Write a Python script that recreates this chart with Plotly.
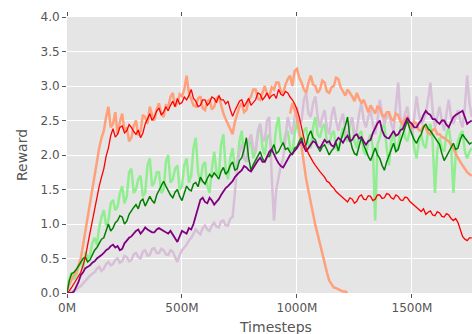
import plotly.graph_objects as go

# Timesteps in millions (sampled every 10M)
timesteps = list(range(0, 1761, 10))

red_reward = [
    0.00, 0.03, 0.08, 0.14, 0.20, 0.26, 0.30, 0.40, 0.52, 0.70,
    0.88, 1.05, 1.22, 1.40, 1.55, 1.68, 1.80, 1.98, 2.10, 2.28,
    2.38, 2.26, 2.30, 2.40, 2.42, 2.32, 2.35, 2.44, 2.40, 2.34,
    2.30, 2.36, 2.25, 2.32, 2.45, 2.52, 2.60, 2.50, 2.55, 2.64,
    2.68, 2.58, 2.62, 2.70, 2.64, 2.72, 2.78, 2.70, 2.82, 2.74,
    2.76, 2.84, 2.80, 2.86, 2.95, 2.82, 2.78, 2.70, 2.72, 2.80,
    2.80, 2.72, 2.76, 2.84, 2.82, 2.76, 2.86, 2.80, 2.80, 2.74,
    2.78, 2.66, 2.56, 2.64, 2.72, 2.78, 2.80, 2.70, 2.76, 2.82,
    2.72, 2.76, 2.80, 2.90, 2.88, 2.80, 2.84, 2.90, 2.82, 2.86,
    2.88, 2.82, 2.95, 2.88, 2.86, 2.92, 2.90, 2.84, 2.80, 2.74,
    2.66, 2.55, 2.40, 2.25, 2.10, 2.02, 1.95, 1.90, 1.85, 1.80,
    1.76, 1.72, 1.68, 1.62, 1.60, 1.55, 1.52, 1.47, 1.44, 1.40,
    1.38, 1.34, 1.32, 1.38, 1.36, 1.30, 1.33, 1.40, 1.42, 1.36,
    1.35, 1.41, 1.40, 1.34, 1.36, 1.42, 1.42, 1.37, 1.38, 1.44,
    1.43, 1.38, 1.36, 1.42, 1.40, 1.35, 1.34, 1.39, 1.38, 1.33,
    1.30, 1.27, 1.24, 1.20, 1.18, 1.22, 1.14, 1.17, 1.19, 1.13,
    1.12, 1.18, 1.16, 1.11, 1.10, 1.15, 1.13, 1.08, 1.05, 1.08,
    1.02, 0.92, 0.82, 0.78, 0.76, 0.80, 0.80,
]

salmon_reward = [
    0.05, 0.12, 0.20, 0.26, 0.30, 0.40, 0.50, 0.70, 0.90, 1.10,
    1.30, 1.55, 1.75, 1.95, 2.10, 2.25, 2.35, 2.55, 2.70, 2.40,
    2.45, 2.62, 2.30, 2.48, 2.60, 2.35, 2.40, 2.20, 2.25, 2.42,
    2.50, 2.28, 2.35, 2.58, 2.55, 2.45, 2.70, 2.58, 2.50, 2.66,
    2.75, 2.60, 2.55, 2.72, 2.70, 2.84, 2.90, 2.70, 2.75, 2.88,
    2.85, 2.95, 3.15, 2.90, 2.80, 2.72, 2.70, 2.82, 2.85, 2.68,
    2.65, 2.78, 2.80, 2.66, 2.70, 2.82, 2.85, 2.72, 2.60, 2.52,
    2.45, 2.36, 2.30, 2.48, 2.60, 2.70, 2.75, 2.62, 2.65, 2.80,
    2.85, 2.95, 2.95, 2.82, 2.80, 2.92, 3.00, 2.88, 2.85, 2.98,
    2.95, 3.05, 3.05, 2.92, 2.90, 3.02, 3.10, 3.15, 3.00, 3.22,
    3.25, 3.12, 3.05, 2.95, 2.90, 3.05, 3.15, 3.02, 3.00, 2.90,
    2.95, 3.08, 3.05, 2.92, 2.90, 2.98, 3.00, 3.12, 3.10, 2.98,
    2.92, 2.86, 2.95, 2.90, 2.85, 2.78, 2.90, 2.82, 2.75, 2.80,
    2.70, 2.62, 2.72, 2.66, 2.60, 2.70, 2.68, 2.58, 2.55, 2.62,
    2.62, 2.52, 2.50, 2.60, 2.58, 2.48, 2.45, 2.52, 2.55, 2.44,
    2.40, 2.48, 2.45, 2.36, 2.35, 2.42, 2.40, 2.32, 2.30, 2.36,
    2.38, 2.30, 2.30, 2.26, 2.25, 2.22, 2.20, 2.15, 2.10, 2.02,
    1.95, 1.90, 1.85, 1.80, 1.75, 1.72, 1.70,
]

salmon_crash_steps = list(range(970, 1221, 10))
salmon_crash_reward = [
    2.60, 2.75, 2.65, 2.55, 2.35, 2.10, 1.88, 1.65, 1.48, 1.30,
    1.15, 0.98, 0.85, 0.70, 0.55, 0.42, 0.30, 0.18, 0.12, 0.08,
    0.07, 0.05, 0.04, 0.02, 0.02, 0.00,
]

green_reward = [
    0.00, 0.18, 0.28, 0.30, 0.34, 0.40, 0.44, 0.50, 0.52, 0.45,
    0.48, 0.56, 0.62, 0.66, 0.72, 0.78, 0.80, 0.92, 1.00, 0.90,
    0.94, 1.02, 1.05, 1.12, 1.10, 1.00, 1.04, 1.14, 1.20, 1.24,
    1.28, 1.22, 1.33, 1.36, 1.26, 1.32, 1.40, 1.34, 1.30, 1.42,
    1.48, 1.56, 1.62, 1.55, 1.48, 1.42, 1.38, 1.46, 1.50, 1.40,
    1.34, 1.46, 1.55, 1.50, 1.48, 1.58, 1.60, 1.54, 1.68, 1.62,
    1.58, 1.66, 1.72, 1.68, 1.74, 1.70, 1.65, 1.76, 1.82, 1.72,
    1.76, 1.85, 1.90, 1.78, 1.80, 1.92, 1.96, 2.08, 2.25, 1.95,
    1.78, 1.86, 1.92, 2.00, 2.05, 1.95, 1.90, 1.98, 1.98, 2.08,
    2.15, 2.02, 2.05, 2.12, 2.18, 2.08, 2.10, 2.04, 2.00, 2.10,
    2.12, 2.20, 2.25, 2.12, 2.15, 2.28, 2.35, 2.25, 2.22, 2.12,
    2.05, 2.12, 2.15, 2.08, 2.00, 2.06, 2.10, 2.18, 2.06, 2.20,
    2.30, 2.42, 2.55, 2.25, 2.10, 2.02, 2.00, 2.12, 2.25, 2.15,
    2.05, 1.98, 1.92, 2.02, 2.10, 2.00, 1.95, 1.85, 1.78, 1.90,
    2.00, 2.10, 2.17, 2.05, 2.08, 2.20, 2.30, 2.42, 2.50, 2.38,
    2.30, 2.22, 2.17, 2.25, 2.30, 2.40, 2.45, 2.38, 2.35, 2.30,
    2.25, 2.20, 2.15, 2.02, 1.92, 1.98, 2.05, 2.12, 2.17, 2.08,
    2.10, 2.22, 2.30, 2.25, 2.21, 2.16, 2.18,
]

purple_reward = [
    0.00, 0.00, 0.00, 0.02, 0.08, 0.16, 0.26, 0.30, 0.36, 0.38,
    0.40, 0.44, 0.46, 0.50, 0.52, 0.55, 0.58, 0.62, 0.64, 0.68,
    0.70, 0.66, 0.68, 0.62, 0.64, 0.72, 0.76, 0.80, 0.82, 0.86,
    0.90, 0.92, 0.86, 0.90, 0.95, 0.92, 0.90, 0.88, 0.88, 0.92,
    0.94, 0.92, 0.90, 0.88, 0.86, 0.90, 0.84, 0.80, 0.74, 0.82,
    0.90, 0.88, 0.86, 0.94, 0.92, 1.00, 1.12, 1.25, 1.35, 1.38,
    1.32, 1.30, 1.38, 1.34, 1.28, 1.32, 1.36, 1.42, 1.48, 1.52,
    1.55, 1.58, 1.62, 1.68, 1.72, 1.75, 1.78, 1.84, 1.82, 1.78,
    1.76, 1.82, 1.88, 1.92, 1.96, 1.90, 1.90, 1.98, 2.05, 2.08,
    2.00, 1.94, 1.88, 1.84, 1.82, 1.88, 1.95, 2.00, 2.02, 2.06,
    2.10, 2.16, 2.20, 2.12, 2.05, 2.10, 2.15, 2.20, 2.18, 2.12,
    2.10, 2.16, 2.22, 2.18, 2.20, 2.14, 2.12, 2.20, 2.25, 2.22,
    2.18, 2.24, 2.28, 2.20, 2.22, 2.28, 2.30, 2.24, 2.26, 2.20,
    2.15, 2.20, 2.22, 2.32, 2.40, 2.46, 2.50, 2.36, 2.28, 2.25,
    2.24, 2.30, 2.35, 2.28, 2.30, 2.36, 2.38, 2.46, 2.54, 2.48,
    2.45, 2.40, 2.40, 2.46, 2.50, 2.58, 2.64, 2.60, 2.58, 2.52,
    2.52, 2.48, 2.45, 2.50, 2.50, 2.44, 2.40, 2.48, 2.55, 2.58,
    2.60, 2.62, 2.64, 2.55, 2.45, 2.48, 2.50,
]

lightgreen_reward = [
    0.10, 0.22, 0.30, 0.20, 0.25, 0.38, 0.45, 0.35, 0.60, 0.50,
    0.55, 0.72, 0.80, 0.70, 0.95, 1.10, 1.20, 0.98, 1.05, 1.30,
    1.35, 1.20, 1.25, 1.45, 1.55, 1.30, 1.40, 1.75, 1.80, 1.45,
    1.50, 1.65, 1.70, 1.40, 1.45, 1.85, 1.95, 1.55, 1.60, 1.75,
    1.75, 1.45, 1.50, 1.90, 2.00, 1.60, 1.65, 1.80, 1.85, 1.50,
    1.55, 1.85, 1.95, 1.60, 1.70, 2.10, 2.25, 1.75, 1.60, 1.85,
    1.90, 1.55, 1.45, 1.80, 2.05, 1.75, 1.70, 2.15, 2.30, 1.80,
    1.65, 1.95, 2.10, 1.80, 1.85, 2.20, 2.35, 1.95, 1.90, 2.15,
    2.20, 1.95, 2.05, 2.30, 2.45, 2.10, 2.00, 2.25, 2.30, 2.05,
    2.10, 2.40, 2.55, 2.20, 2.15, 2.30, 2.35, 2.10, 2.05, 2.30,
    2.50, 2.30, 2.20, 2.35, 2.40, 2.15, 2.10, 2.40, 2.55, 2.30,
    2.25, 2.40, 2.45, 2.20, 2.15, 2.30, 2.35, 2.10, 2.05, 2.25,
    2.40, 2.25, 2.20, 2.45, 2.50, 2.20, 2.10, 2.30, 2.35, 2.05,
    2.00, 2.20, 2.30, 2.10, 1.05, 2.15, 2.25, 2.40, 2.45, 2.10,
    1.85, 2.20, 2.35, 2.05, 2.10, 2.40, 2.50, 2.25, 2.20, 2.35,
    2.40, 2.10, 1.95, 2.20, 2.30, 2.15, 2.10, 2.35, 2.45, 2.20,
    1.45, 2.05, 2.25, 2.10, 2.05, 2.30, 2.40, 2.15, 1.45, 2.00,
    2.20, 2.30, 2.35, 2.05, 1.95, 2.05, 2.10,
]

thistle_reward = [
    0.00, 0.00, 0.02, 0.03, 0.05, 0.08, 0.10, 0.14, 0.18, 0.22,
    0.25, 0.28, 0.30, 0.35, 0.38, 0.32, 0.35, 0.42, 0.45, 0.40,
    0.42, 0.48, 0.50, 0.44, 0.46, 0.54, 0.52, 0.46, 0.48, 0.56,
    0.58, 0.52, 0.50, 0.60, 0.62, 0.54, 0.55, 0.64, 0.65, 0.58,
    0.58, 0.64, 0.62, 0.56, 0.55, 0.62, 0.60, 0.52, 0.45, 0.55,
    0.62, 0.66, 0.70, 0.76, 0.80, 0.86, 0.92, 0.88, 0.85, 0.94,
    0.98, 0.92, 0.90, 0.98, 1.02, 0.96, 0.95, 1.04, 1.05, 0.98,
    0.98, 1.08, 1.10, 1.45, 1.85, 2.05, 2.15, 1.95, 1.90, 2.20,
    2.30, 2.10, 2.05, 2.35, 2.45, 2.25, 2.20, 2.50, 2.55, 1.70,
    1.05, 1.50, 1.70, 1.85, 1.95, 2.30, 2.55, 2.40, 2.30, 2.55,
    2.70, 2.45, 2.50, 2.80, 2.90, 2.60, 2.55, 2.75, 2.85, 2.55,
    2.40, 2.55, 2.65, 2.40, 2.30, 2.55, 2.70, 2.50, 2.35, 2.50,
    2.60, 2.35, 2.25, 2.45, 2.55, 2.30, 2.35, 2.60, 2.75, 2.50,
    2.40, 2.55, 2.65, 2.45, 2.30, 2.50, 2.80, 2.60, 2.45, 2.55,
    2.60, 2.45, 2.35, 2.70, 3.05, 2.55, 2.40, 2.60, 2.70, 2.45,
    2.30, 2.55, 2.85, 2.60, 2.45, 2.50, 2.60, 2.80, 3.05, 2.65,
    2.40, 2.55, 2.70, 2.50, 2.35, 2.60, 2.80, 2.55, 2.45, 2.55,
    2.65, 2.50, 2.40, 2.70, 3.15, 2.75, 2.55,
]

x_tick_vals = [0, 500, 1000, 1500]
x_tick_text = ["0M", "500M", "1000M", "1500M"]
y_tick_vals = [0.0, 0.5, 1.0, 1.5, 2.0, 2.5, 3.0, 3.5, 4.0]

for name, arr in [("red", red_reward), ("salmon", salmon_reward), ("green", green_reward),
                  ("purple", purple_reward), ("lightgreen", lightgreen_reward), ("thistle", thistle_reward)]:
    assert len(arr) == len(timesteps), (name, len(arr), len(timesteps))
assert len(salmon_crash_steps) == len(salmon_crash_reward)

fig = go.Figure()


def add(x, y, color, width):
    fig.add_trace(go.Scatter(x=x, y=y, mode="lines", line=dict(color=color, width=width),
                             hoverinfo="skip", showlegend=False))


add(timesteps, lightgreen_reward, "#90ee90", 2.5)
add(timesteps, thistle_reward, "#d8bfd8", 2.5)
add(timesteps, salmon_reward, "#ffa07a", 2.5)
add(salmon_crash_steps, salmon_crash_reward, "#ffa07a", 2.5)
add(timesteps, green_reward, "#008000", 1.5)
add(timesteps, purple_reward, "#800080", 1.8)
add(timesteps, red_reward, "#ff0000", 1.3)

tickfont = dict(family="DejaVu Sans", size=12, color="#555555")

fig.update_layout(
    width=472, height=334,
    margin=dict(l=67, r=0, t=17, b=41),
    paper_bgcolor="white",
    plot_bgcolor="#e5e5e5",
    font=dict(family="DejaVu Sans", color="#555555"),
    xaxis=dict(
        range=[0, 1761], tickvals=x_tick_vals, ticktext=x_tick_text,
        showgrid=True, gridcolor="white", gridwidth=1, zeroline=False,
        ticks="outside", ticklen=4, tickcolor="#555555", mirror="ticks",
        showline=False, tickfont=tickfont,
    ),
    yaxis=dict(
        range=[0, 4], tickvals=y_tick_vals, tickformat=".1f",
        showgrid=True, gridcolor="white", gridwidth=1, zeroline=False,
        ticks="outside", ticklen=4, tickcolor="#555555",
        showline=False, tickfont=tickfont,
    ),
    annotations=[
        dict(text="Timesteps", xref="paper", yref="paper", x=0.5136, y=-0.123,
             xanchor="center", yanchor="middle", showarrow=False,
             font=dict(family="DejaVu Sans", size=14, color="#555555")),
        dict(text="Reward", xref="paper", yref="paper", x=-0.111, y=0.5,
             xanchor="center", yanchor="middle", showarrow=False, textangle=-90,
             font=dict(family="DejaVu Sans", size=14, color="#555555")),
    ],
)

fig.write_html("out.html", config={"displayModeBar": False},
               post_script="document.body.style.margin='0px';")
